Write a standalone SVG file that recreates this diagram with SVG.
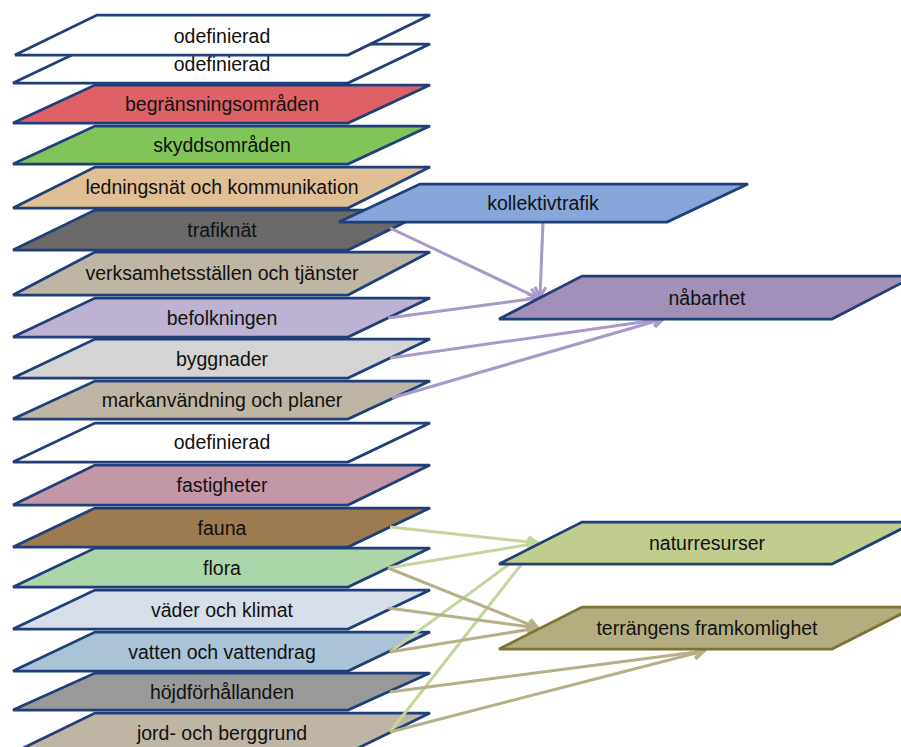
<svg xmlns="http://www.w3.org/2000/svg" width="901" height="747" viewBox="0 0 901 747">
<style>
.ly{stroke:#1f3f7a;stroke-width:2.75;stroke-linejoin:miter}
.tx{font-family:"Liberation Sans",Arial,sans-serif;font-size:19.5px;fill:#111;text-anchor:middle}
.cp{stroke:#a899c8;stroke-width:3;fill:none}
.cg{stroke:#c3d69b;stroke-width:3;fill:none}
.ck{stroke:#b6b087;stroke-width:3;fill:none}
</style>
<defs>
<marker id="ap" viewBox="0 0 14 14" refX="12" refY="7" markerWidth="14" markerHeight="14" markerUnits="userSpaceOnUse" orient="auto"><path d="M2,1.5 L12,7 L2,12.5" fill="none" stroke="#a899c8" stroke-width="3"/></marker>
<marker id="ag" viewBox="0 0 14 14" refX="12" refY="7" markerWidth="14" markerHeight="14" markerUnits="userSpaceOnUse" orient="auto"><path d="M2,1.5 L12,7 L2,12.5" fill="none" stroke="#c3d69b" stroke-width="3"/></marker>
<marker id="ak" viewBox="0 0 14 14" refX="12" refY="7" markerWidth="14" markerHeight="14" markerUnits="userSpaceOnUse" orient="auto"><path d="M2,1.5 L12,7 L2,12.5" fill="none" stroke="#b6b087" stroke-width="3"/></marker>
</defs>
<rect width="901" height="747" fill="#fff"/>
<g id="jord"><polygon class="ly" points="95,713 430,713 348,753 13,753" fill="#bfb5a4"/><text class="tx" x="222" y="740">jord- och berggrund</text></g>
<g id="hojd"><polygon class="ly" points="95,673 430,673 348,710 13,710" fill="#999999"/><text class="tx" x="222" y="699">höjdförhållanden</text></g>
<g id="vatten"><polygon class="ly" points="95,632 430,632 348,671 13,671" fill="#abc3d6"/><text class="tx" x="222" y="659">vatten och vattendrag</text></g>
<g id="vader"><polygon class="ly" points="95,590 430,590 348,629 13,629" fill="#d6dee9"/><text class="tx" x="222" y="617">väder och klimat</text></g>
<g id="flora"><polygon class="ly" points="95,548 430,548 348,587 13,587" fill="#acd6aa"/><text class="tx" x="222" y="575">flora</text></g>
<g id="fauna"><polygon class="ly" points="95,508 430,508 348,547 13,547" fill="#9d7b4e"/><text class="tx" x="222" y="535">fauna</text></g>
<g id="fastigheter"><polygon class="ly" points="95,465 430,465 348,505 13,505" fill="#c397a7"/><text class="tx" x="222" y="492">fastigheter</text></g>
<g id="odef3"><polygon class="ly" points="95,423 430,423 348,462 13,462" fill="#ffffff"/><text class="tx" x="222" y="449">odefinierad</text></g>
<g id="markanv"><polygon class="ly" points="95,381 430,381 348,419 13,419" fill="#bfb5a4"/><text class="tx" x="222" y="407">markanvändning och planer</text></g>
<g id="byggnader"><polygon class="ly" points="95,339 430,339 348,378 13,378" fill="#d4d4d4"/><text class="tx" x="222" y="366">byggnader</text></g>
<g id="befolkning"><polygon class="ly" points="95,298 430,298 348,337 13,337" fill="#bdb2d2"/><text class="tx" x="222" y="325">befolkningen</text></g>
<g id="verksamhet"><polygon class="ly" points="95,252 430,252 348,295 13,295" fill="#bfb5a4"/><text class="tx" x="222" y="280">verksamhetsställen och tjänster</text></g>
<g id="trafiknat"><polygon class="ly" points="95,210 430,210 348,250 13,250" fill="#696969"/><text class="tx" x="222" y="237">trafiknät</text></g>
<g id="ledning"><polygon class="ly" points="95,167 430,167 348,208 13,208" fill="#dfbf93"/><text class="tx" x="222" y="194">ledningsnät och kommunikation</text></g>
<g id="skydd"><polygon class="ly" points="95,126 430,126 348,164 13,164" fill="#80c45a"/><text class="tx" x="222" y="152">skyddsområden</text></g>
<g id="begransning"><polygon class="ly" points="95,85 430,85 348,123 13,123" fill="#de6167"/><text class="tx" x="222" y="111">begränsningsområden</text></g>
<g id="odef2"><polygon class="ly" points="95,44 430,44 348,83 13,83" fill="#ffffff"/><text class="tx" x="222" y="71">odefinierad</text></g>
<g id="odef1"><polygon class="ly" points="97,15 430,15 348,55 15,55" fill="#ffffff"/><text class="tx" x="222" y="43">odefinierad</text></g>
<g id="connectors">
<line class="cp" x1="390" y1="228" x2="538" y2="298" marker-end="url(#ap)"/>
<line class="cp" x1="543" y1="222" x2="540" y2="297" marker-end="url(#ap)"/>
<line class="cp" x1="388" y1="318" x2="538" y2="298" marker-end="url(#ap)"/>
<line class="cp" x1="390" y1="358" x2="663" y2="319" marker-end="url(#ap)"/>
<line class="cp" x1="392" y1="398" x2="663" y2="319" marker-end="url(#ap)"/>
<line class="cg" x1="390" y1="527" x2="538" y2="543" marker-end="url(#ag)"/>
<line class="cg" x1="388" y1="568" x2="538" y2="543" marker-end="url(#ag)"/>
<line class="cg" x1="390" y1="652" x2="538" y2="543" marker-end="url(#ag)"/>
<line class="cg" x1="390" y1="732" x2="538" y2="543" marker-end="url(#ag)"/>
<line class="ck" x1="388" y1="568" x2="538" y2="628" marker-end="url(#ak)"/>
<line class="ck" x1="388" y1="608" x2="538" y2="628" marker-end="url(#ak)"/>
<line class="ck" x1="390" y1="652" x2="538" y2="628" marker-end="url(#ak)"/>
<line class="ck" x1="390" y1="692" x2="704" y2="651" marker-end="url(#ak)"/>
<line class="ck" x1="390" y1="732" x2="704" y2="651" marker-end="url(#ak)"/>
</g>
<g id="kollektivtrafik"><polygon class="ly" points="420,184 748,184 667,222 339,222" fill="#87a7db"/><text class="tx" x="543" y="210">kollektivtrafik</text></g>
<g id="nabarhet"><polygon class="ly" points="582,276 915,276 832,319 499,319" fill="#a190b8"/><text class="tx" x="707" y="305">nåbarhet</text></g>
<g id="naturresurser"><polygon class="ly" points="582,522 915,522 832,564 499,564" fill="#c0cd8d"/><text class="tx" x="707" y="550">naturresurser</text></g>
<g id="terrangens"><polygon points="582,607 915,607 832,649 499,649" fill="#b3ad80" stroke="#7d7335" stroke-width="2.75"/><text class="tx" x="707" y="635">terrängens framkomlighet</text></g>
</svg>
